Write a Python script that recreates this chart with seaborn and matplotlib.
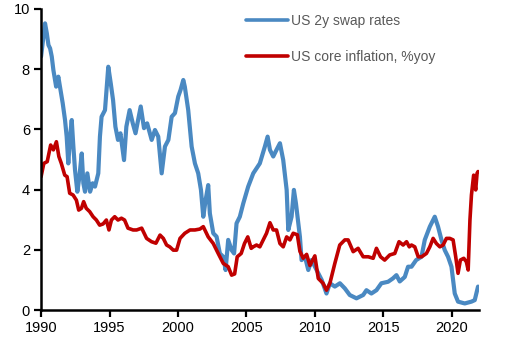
import numpy as np
import pandas as pd
import matplotlib
matplotlib.use("Agg")
import matplotlib.pyplot as plt
import seaborn as sns

# US 2y swap rate (decimal year, %)
swap_years = [
    1990.0, 1990.17, 1990.29, 1990.42, 1990.54, 1990.66, 1990.78, 1990.9, 1991.1, 1991.26,
    1991.44, 1991.58, 1991.75, 1991.87, 1991.99, 1992.12, 1992.24, 1992.36, 1992.48, 1992.65,
    1992.8, 1992.97, 1993.09, 1993.21, 1993.38, 1993.58, 1993.77, 1993.94, 1994.18, 1994.3,
    1994.42, 1994.67, 1994.91, 1995.09, 1995.26, 1995.43, 1995.62, 1995.8, 1996.06, 1996.23,
    1996.47, 1996.7, 1996.9, 1997.28, 1997.52, 1997.75, 1998.08, 1998.32, 1998.56, 1998.81,
    1999.05, 1999.3, 1999.54, 1999.78, 2000.02, 2000.19, 2000.39, 2000.5, 2000.75, 2001.0,
    2001.24, 2001.48, 2001.68, 2001.85, 2002.02, 2002.21, 2002.33, 2002.58, 2002.82, 2003.06,
    2003.31, 2003.48, 2003.67, 2003.92, 2004.1, 2004.28, 2004.52, 2004.77, 2005.13, 2005.5,
    2005.98, 2006.35, 2006.55, 2006.72, 2006.96, 2007.2, 2007.45, 2007.69, 2007.94, 2008.06,
    2008.3, 2008.47, 2008.62, 2008.79, 2008.91, 2009.03, 2009.28, 2009.52, 2009.76, 2010.13,
    2010.5, 2010.85, 2011.1, 2011.46, 2011.83, 2012.19, 2012.55, 2013.04, 2013.53, 2013.77,
    2014.13, 2014.5, 2014.86, 2015.35, 2015.7, 2015.96, 2016.2, 2016.57, 2016.81, 2017.06,
    2017.4, 2017.79, 2018.03, 2018.4, 2018.76, 2019.0, 2019.25, 2019.49, 2019.73, 2019.98,
    2020.22, 2020.46, 2020.95, 2021.44, 2021.68, 2021.92,
]
swap_rates = [
    8.42, 9.08, 9.52, 9.19, 8.8, 8.69, 8.42, 7.97, 7.42, 7.75,
    7.25, 6.87, 6.31, 5.76, 4.87, 5.76, 6.31, 5.43, 4.65, 3.93,
    4.43, 5.2, 4.21, 3.93, 4.54, 3.93, 4.21, 4.1, 4.54, 5.76,
    6.42, 6.64, 8.08, 7.53, 6.97, 6.09, 5.65, 5.87, 4.98, 6.09,
    6.64, 6.2, 5.87, 6.76, 6.04, 6.2, 5.65, 5.98, 5.76, 4.54,
    5.43, 5.65, 6.42, 6.54, 7.09, 7.31, 7.64, 7.42, 6.64, 5.43,
    4.87, 4.54, 3.99, 3.1, 3.65, 4.15, 3.21, 2.55, 2.44, 1.88,
    1.77, 1.33, 2.33, 1.99, 1.88, 2.88, 3.1, 3.54, 4.1, 4.54,
    4.87, 5.43, 5.76, 5.32, 5.1, 5.32, 5.54, 4.98, 3.99, 2.66,
    3.1, 3.99, 3.54, 2.88, 2.43, 1.66, 1.77, 1.33, 1.66, 1.33,
    1.0, 0.55, 0.89, 0.78, 0.89, 0.72, 0.5, 0.39, 0.5, 0.66,
    0.55, 0.66, 0.89, 0.94, 1.05, 1.16, 0.95, 1.1, 1.44, 1.44,
    1.66, 1.77, 2.33, 2.77, 3.1, 2.77, 2.33, 1.99, 1.77, 1.44,
    0.55, 0.28, 0.22, 0.28, 0.33, 0.78,
]

# US core CPI inflation, % y/y (decimal year, %)
cpi_years = [
    1990.0, 1990.2, 1990.45, 1990.7, 1990.9, 1991.12, 1991.3, 1991.48, 1991.73, 1991.9,
    1992.09, 1992.34, 1992.58, 1992.75, 1992.95, 1993.11, 1993.3, 1993.55, 1993.8, 1994.04,
    1994.28, 1994.53, 1994.77, 1994.96, 1995.14, 1995.38, 1995.62, 1995.87, 1996.1, 1996.35,
    1996.72, 1996.98, 1997.35, 1997.71, 1998.07, 1998.39, 1998.69, 1998.93, 1999.17, 1999.4,
    1999.66, 1999.9, 2000.15, 2000.5, 2000.88, 2001.24, 2001.6, 2001.85, 2002.21, 2002.58,
    2002.94, 2003.31, 2003.67, 2003.92, 2004.14, 2004.33, 2004.62, 2004.86, 2005.1, 2005.35,
    2005.5, 2005.74, 2005.98, 2006.23, 2006.47, 2006.72, 2006.96, 2007.2, 2007.45, 2007.69,
    2007.94, 2008.18, 2008.42, 2008.72, 2008.91, 2009.15, 2009.4, 2009.64, 2010.0, 2010.25,
    2010.6, 2010.85, 2011.1, 2011.46, 2011.82, 2012.19, 2012.43, 2012.8, 2013.16, 2013.53,
    2013.9, 2014.26, 2014.5, 2014.8, 2015.1, 2015.47, 2015.84, 2016.15, 2016.45, 2016.7,
    2016.9, 2017.06, 2017.3, 2017.55, 2017.8, 2018.15, 2018.4, 2018.64, 2018.88, 2019.13,
    2019.37, 2019.61, 2019.86, 2020.1, 2020.29, 2020.46, 2020.63, 2020.88, 2021.07, 2021.2,
    2021.33, 2021.44, 2021.6, 2021.75, 2021.85, 2021.92,
]
cpi_rates = [
    4.43, 4.87, 4.93, 5.48, 5.32, 5.59, 5.1, 4.87, 4.48, 4.43,
    3.88, 3.82, 3.65, 3.32, 3.38, 3.6, 3.38, 3.27, 3.1, 2.99,
    2.82, 2.86, 2.99, 2.66, 2.99, 3.1, 2.99, 3.05, 2.99, 2.72,
    2.66, 2.66, 2.72, 2.38, 2.27, 2.22, 2.49, 2.38, 2.16, 2.1,
    1.99, 1.99, 2.38, 2.55, 2.66, 2.66, 2.69, 2.77, 2.43, 2.21,
    1.88, 1.55, 1.44, 1.16, 1.2, 1.77, 1.88, 2.21, 2.43, 2.05,
    2.1, 2.16, 2.1, 2.33, 2.55, 2.9, 2.66, 2.66, 2.21, 2.1,
    2.43, 2.33, 2.55, 2.5, 1.95, 1.72, 1.85, 1.48, 1.8, 1.05,
    0.89, 0.66, 0.89, 1.55, 2.16, 2.33, 2.33, 1.94, 2.05, 1.77,
    1.77, 1.72, 2.05, 1.77, 1.66, 1.83, 1.88, 2.27, 2.16, 2.27,
    2.1, 2.16, 2.1, 1.77, 1.77, 1.88, 2.1, 2.38, 2.21, 2.1,
    2.16, 2.38, 2.38, 2.33, 1.77, 1.22, 1.66, 1.72, 1.6, 1.33,
    2.99, 3.82, 4.48, 3.99, 4.54, 4.6,
]

series_names = ["US 2y swap rates", "US core inflation, %yoy"]
series_colors = ["#4A89C2", "#C00000"]
series_widths = [3.0, 2.6]
x_ticks = [1990, 1995, 2000, 2005, 2010, 2015, 2020]
y_ticks = [0, 2, 4, 6, 8, 10]

df = pd.concat([
    pd.DataFrame({"year": swap_years, "value": swap_rates, "series": series_names[0]}),
    pd.DataFrame({"year": cpi_years, "value": cpi_rates, "series": series_names[1]}),
], ignore_index=True)

sns.set_style("ticks")
plt.rcParams["font.family"] = ["Liberation Sans", "DejaVu Sans"]

fig = plt.figure(figsize=(5.07, 3.43), dpi=100)
ax = fig.add_axes([0.081, 0.096, 0.864, 0.878])

for name, color, lw in zip(series_names, series_colors, series_widths):
    sns.lineplot(data=df[df["series"] == name], x="year", y="value",
                 color=color, linewidth=lw, sort=False, estimator=None,
                 ax=ax, legend=False)

ax.set_xlim(1990, 2022)
ax.set_ylim(0, 10)
ax.set_xticks(x_ticks)
ax.set_yticks(y_ticks)
ax.set_xlabel("")
ax.set_ylabel("")
for s in ["top", "right"]:
    ax.spines[s].set_visible(False)
for s in ["left", "bottom"]:
    ax.spines[s].set_linewidth(1.8)
    ax.spines[s].set_color("black")
ax.tick_params(axis="both", direction="out", length=5, width=1.6,
               labelsize=10.5, colors="black", pad=3)
ax.grid(False)

handles = [plt.Line2D([], [], color=c, linewidth=2.6) for c in series_colors]
leg = ax.legend(handles, series_names, loc="upper left",
                bbox_to_anchor=(0.474, 0.975), bbox_transform=fig.transFigure,
                frameon=False, fontsize=10, handlelength=3.0, handletextpad=0.25,
                labelspacing=1.55, borderaxespad=0)
for t in leg.get_texts():
    t.set_color("#595959")

fig.savefig("out.png", dpi=100)
